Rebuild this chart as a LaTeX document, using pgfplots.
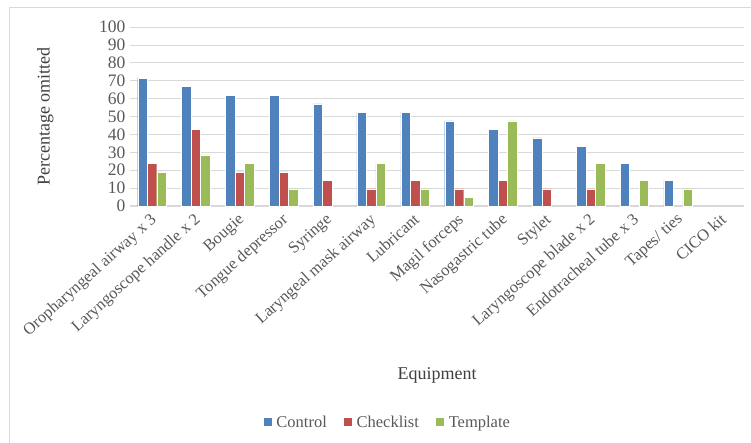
\documentclass[border=0pt]{standalone}
\usepackage{pgfplots}
\pgfplotsset{compat=1.18}
\usepackage{fontspec}
\setmainfont{Liberation Serif}
\definecolor{cBlue}{HTML}{4F81BD}
\definecolor{cRed}{HTML}{C0504D}
\definecolor{cGreen}{HTML}{9BBB59}
\definecolor{cGrid}{HTML}{D9D9D9}
\definecolor{cText}{HTML}{595959}
\definecolor{cTitle}{HTML}{404040}
\begin{document}
\begin{tikzpicture}
\path[use as bounding box] (-130bp,-237bp) rectangle (621bp,206bp);
\draw[cGrid, line width=0.8bp] (-121bp,-237bp) -- (-121bp,199bp) -- (621bp,199bp);
\begin{axis}[
  at={(0,0)}, anchor=south west,
  scale only axis,
  width=614bp, height=179bp,
  xmin=-0.5, xmax=13.5,
  ymin=0, ymax=100,
  ytick={0,10,...,100},
  xtick={0,...,13},
  xticklabels={Oropharyngeal airway x 3,Laryngoscope handle x 2,Bougie,Tongue depressor,Syringe,Laryngeal mask airway,Lubricant,Magil forceps,Nasogastric tube,Stylet,Laryngoscope blade x 2,Endotracheal tube x 3,Tapes/ ties,CICO kit},
  ybar=0pt,
  bar width=9.5bp,
  major tick length=0pt,
  ymajorgrids,
  grid style={cGrid, line width=0.8bp},
  axis x line*=bottom,
  axis y line*=left,
  x axis line style={draw=cGrid, line width=1.2bp, -},
  y axis line style={draw=none},
  /pgf/number format/assume math mode=true,
  tick label style={font=\fontsize{16.5bp}{19bp}\selectfont, text=cText},
  yticklabel style={font=\fontsize{17.5bp}{19bp}\selectfont, xshift=-1bp},
  xticklabel style={rotate=42, anchor=north east, inner sep=1bp, xshift=-5bp, yshift=-2bp},
  xlabel={Equipment},
  ylabel={Percentage omitted},
  label style={font=\fontsize{18bp}{21bp}\selectfont, text=cTitle},
  xlabel style={at={(axis description cs:0.5,-0.944)}, anchor=center},
  ylabel style={at={(axis description cs:-0.138,0.5)}, anchor=center, rotate=0},
  legend columns=-1,
  legend style={at={(axis description cs:0.419,-1.207)}, anchor=center, draw=none,
    font=\fontsize{16.5bp}{19bp}\selectfont, text=cText,
    /tikz/every odd column/.append style={column sep=2.5bp},
    /tikz/every even column/.append style={column sep=14bp}},
  legend image code/.code={\fill[#1] (0bp,-4.5bp) rectangle (9bp,4.5bp);},
  every axis plot/.append style={draw=white, line width=0.3bp},
]
\addplot[fill=cBlue] coordinates {(0,71.4) (1,66.7) (2,61.9) (3,61.9) (4,57.1) (5,52.4) (6,52.4) (7,47.6) (8,42.9) (9,38.1) (10,33.3) (11,23.8) (12,14.3)};
\addplot[fill=cRed] coordinates {(0,23.8) (1,42.9) (2,19.0) (3,19.0) (4,14.3) (5,9.5) (6,14.3) (7,9.5) (8,14.3) (9,9.5) (10,9.5)};
\addplot[fill=cGreen] coordinates {(0,19.0) (1,28.6) (2,23.8) (3,9.5) (5,23.8) (6,9.5) (7,4.8) (8,47.6) (10,23.8) (11,14.3) (12,9.5)};
\legend{Control,Checklist,Template}
\end{axis}
\end{tikzpicture}
\end{document}
